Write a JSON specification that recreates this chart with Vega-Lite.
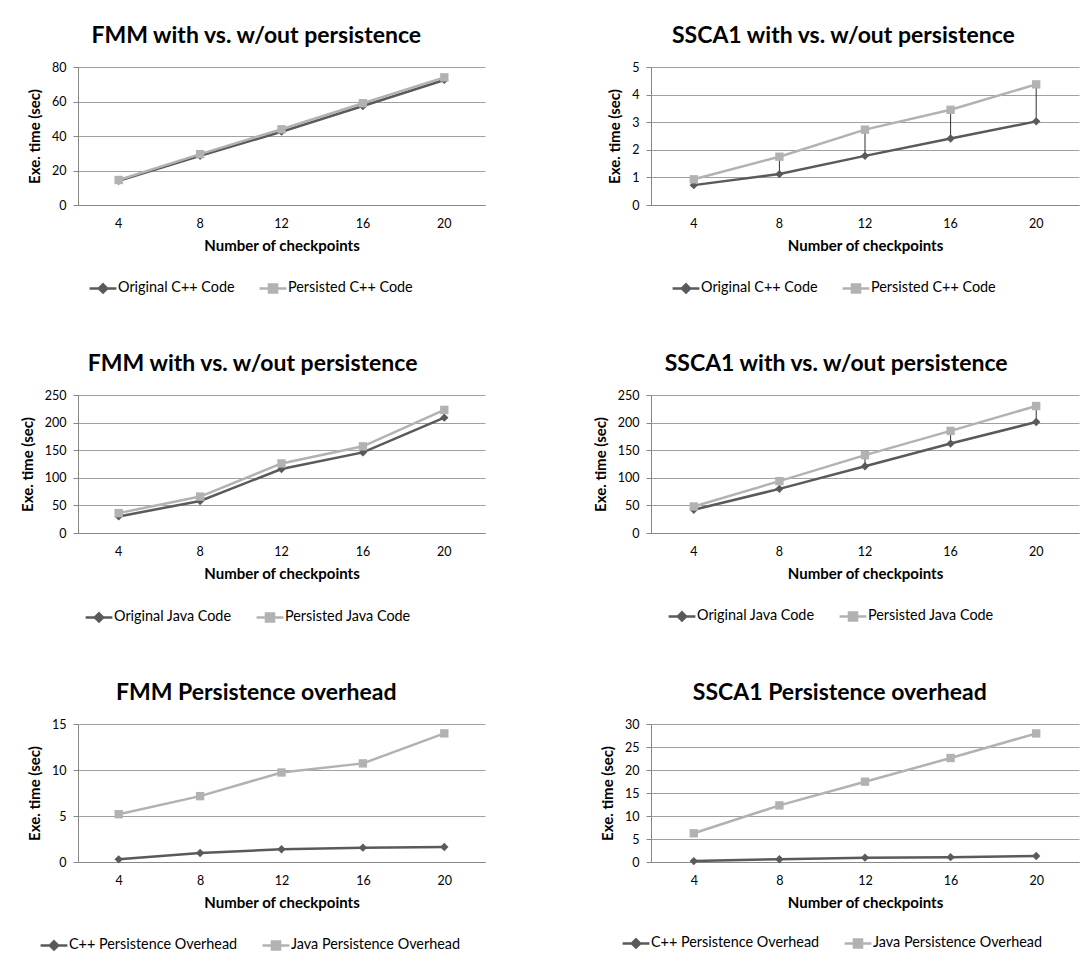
{
  "$schema": "https://vega.github.io/schema/vega-lite/v6.json",
  "background": "white",
  "padding": {"left": 20, "top": 25, "right": 3, "bottom": 5},
  "data": {"values": [
    {"panel": "p1", "series": "Original C++ Code", "checkpoints": 4, "time": 14},
    {"panel": "p1", "series": "Original C++ Code", "checkpoints": 8, "time": 28.5},
    {"panel": "p1", "series": "Original C++ Code", "checkpoints": 12, "time": 42.5},
    {"panel": "p1", "series": "Original C++ Code", "checkpoints": 16, "time": 57.4},
    {"panel": "p1", "series": "Original C++ Code", "checkpoints": 20, "time": 72.5},
    {"panel": "p1", "series": "Persisted C++ Code", "checkpoints": 4, "time": 14.5},
    {"panel": "p1", "series": "Persisted C++ Code", "checkpoints": 8, "time": 29.5},
    {"panel": "p1", "series": "Persisted C++ Code", "checkpoints": 12, "time": 43.9},
    {"panel": "p1", "series": "Persisted C++ Code", "checkpoints": 16, "time": 59},
    {"panel": "p1", "series": "Persisted C++ Code", "checkpoints": 20, "time": 74},
    {"panel": "p2", "series": "Original C++ Code", "checkpoints": 4, "time": 0.72},
    {"panel": "p2", "series": "Original C++ Code", "checkpoints": 8, "time": 1.12},
    {"panel": "p2", "series": "Original C++ Code", "checkpoints": 12, "time": 1.78},
    {"panel": "p2", "series": "Original C++ Code", "checkpoints": 16, "time": 2.41},
    {"panel": "p2", "series": "Original C++ Code", "checkpoints": 20, "time": 3.03},
    {"panel": "p2", "series": "Persisted C++ Code", "checkpoints": 4, "time": 0.93},
    {"panel": "p2", "series": "Persisted C++ Code", "checkpoints": 8, "time": 1.75},
    {"panel": "p2", "series": "Persisted C++ Code", "checkpoints": 12, "time": 2.73},
    {"panel": "p2", "series": "Persisted C++ Code", "checkpoints": 16, "time": 3.45},
    {"panel": "p2", "series": "Persisted C++ Code", "checkpoints": 20, "time": 4.37},
    {"panel": "p3", "series": "Original Java Code", "checkpoints": 4, "time": 30},
    {"panel": "p3", "series": "Original Java Code", "checkpoints": 8, "time": 58},
    {"panel": "p3", "series": "Original Java Code", "checkpoints": 12, "time": 116},
    {"panel": "p3", "series": "Original Java Code", "checkpoints": 16, "time": 146},
    {"panel": "p3", "series": "Original Java Code", "checkpoints": 20, "time": 209},
    {"panel": "p3", "series": "Persisted Java Code", "checkpoints": 4, "time": 36},
    {"panel": "p3", "series": "Persisted Java Code", "checkpoints": 8, "time": 66},
    {"panel": "p3", "series": "Persisted Java Code", "checkpoints": 12, "time": 126},
    {"panel": "p3", "series": "Persisted Java Code", "checkpoints": 16, "time": 157},
    {"panel": "p3", "series": "Persisted Java Code", "checkpoints": 20, "time": 223},
    {"panel": "p4", "series": "Original Java Code", "checkpoints": 4, "time": 42},
    {"panel": "p4", "series": "Original Java Code", "checkpoints": 8, "time": 80},
    {"panel": "p4", "series": "Original Java Code", "checkpoints": 12, "time": 121},
    {"panel": "p4", "series": "Original Java Code", "checkpoints": 16, "time": 162},
    {"panel": "p4", "series": "Original Java Code", "checkpoints": 20, "time": 201},
    {"panel": "p4", "series": "Persisted Java Code", "checkpoints": 4, "time": 48},
    {"panel": "p4", "series": "Persisted Java Code", "checkpoints": 8, "time": 94},
    {"panel": "p4", "series": "Persisted Java Code", "checkpoints": 12, "time": 141},
    {"panel": "p4", "series": "Persisted Java Code", "checkpoints": 16, "time": 185},
    {"panel": "p4", "series": "Persisted Java Code", "checkpoints": 20, "time": 230},
    {"panel": "p5", "series": "C++ Persistence Overhead", "checkpoints": 4, "time": 0.29},
    {"panel": "p5", "series": "C++ Persistence Overhead", "checkpoints": 8, "time": 0.98},
    {"panel": "p5", "series": "C++ Persistence Overhead", "checkpoints": 12, "time": 1.38},
    {"panel": "p5", "series": "C++ Persistence Overhead", "checkpoints": 16, "time": 1.56},
    {"panel": "p5", "series": "C++ Persistence Overhead", "checkpoints": 20, "time": 1.63},
    {"panel": "p5", "series": "Java Persistence Overhead", "checkpoints": 4, "time": 5.19},
    {"panel": "p5", "series": "Java Persistence Overhead", "checkpoints": 8, "time": 7.16},
    {"panel": "p5", "series": "Java Persistence Overhead", "checkpoints": 12, "time": 9.73},
    {"panel": "p5", "series": "Java Persistence Overhead", "checkpoints": 16, "time": 10.72},
    {"panel": "p5", "series": "Java Persistence Overhead", "checkpoints": 20, "time": 13.98},
    {"panel": "p6", "series": "C++ Persistence Overhead", "checkpoints": 4, "time": 0.2},
    {"panel": "p6", "series": "C++ Persistence Overhead", "checkpoints": 8, "time": 0.6},
    {"panel": "p6", "series": "C++ Persistence Overhead", "checkpoints": 12, "time": 0.95},
    {"panel": "p6", "series": "C++ Persistence Overhead", "checkpoints": 16, "time": 1.05},
    {"panel": "p6", "series": "C++ Persistence Overhead", "checkpoints": 20, "time": 1.3},
    {"panel": "p6", "series": "Java Persistence Overhead", "checkpoints": 4, "time": 6.24},
    {"panel": "p6", "series": "Java Persistence Overhead", "checkpoints": 8, "time": 12.3},
    {"panel": "p6", "series": "Java Persistence Overhead", "checkpoints": 12, "time": 17.46},
    {"panel": "p6", "series": "Java Persistence Overhead", "checkpoints": 16, "time": 22.6},
    {"panel": "p6", "series": "Java Persistence Overhead", "checkpoints": 20, "time": 27.95}
  ]},
  "columns": 2,
  "align": "each",
  "spacing": {"row": 55, "column": 108},
  "resolve": {"scale": {"color": "independent", "shape": "independent", "x": "independent", "y": "independent"}, "legend": {"color": "independent"}, "axis": {"x": "independent", "y": "independent"}},
  "concat": [
    {
      "width": 407, "height": 138,
      "title": {"text": "FMM with vs. w/out persistence"},
      "transform": [{"filter": "datum.panel == 'p1'"}],
      "encoding": {
        "x": {"field": "checkpoints", "type": "ordinal", "title": "Number of checkpoints"},
        "y": {"field": "time", "type": "quantitative", "title": "Exe. time (sec)", "scale": {"domain": [0, 80]}, "axis": {"values": [0, 20, 40, 60, 80]}},
        "color": {"field": "series", "type": "nominal", "scale": {"range": ["#5a5a5a", "#b2b2b2"]}, "legend": {"orient": "none", "legendX": 17, "legendY": 213, "encode": {"symbols": {"update": {"shape": {"signal": "indexof(['Original C++ Code','Original Java Code','C++ Persistence Overhead'], datum.value) >= 0 ? 'M-2,0H2M0,-0.62L0.62,0L0,0.62L-0.62,0Z' : 'M-2,0H2M-0.6,-0.6H0.6V0.6H-0.6Z'"}, "fill": {"signal": "indexof(['Original C++ Code','Original Java Code','C++ Persistence Overhead'], datum.value) >= 0 ? '#5a5a5a' : '#b2b2b2'"}, "stroke": {"signal": "indexof(['Original C++ Code','Original Java Code','C++ Persistence Overhead'], datum.value) >= 0 ? '#5a5a5a' : '#b2b2b2'"}, "strokeWidth": {"value": 2.5}}}}}}
      },
      "layer": [
        {"mark": {"type": "line", "strokeWidth": 2.5}},
        {"mark": {"type": "rule", "strokeWidth": 1}, "encoding": {"color": {"value": "#303030"}, "y": {"aggregate": "min", "field": "time", "type": "quantitative"}, "y2": {"aggregate": "max", "field": "time"}}},
        {"mark": {"type": "point", "filled": true, "opacity": 1}, "encoding": {"shape": {"field": "series", "type": "nominal", "scale": {"range": ["diamond", "square"]}, "legend": null}, "size": {"value": 70}}}
      ]
    },
    {
      "width": 428, "height": 138,
      "title": {"text": "SSCA1 with vs. w/out persistence"},
      "transform": [{"filter": "datum.panel == 'p2'"}],
      "encoding": {
        "x": {"field": "checkpoints", "type": "ordinal", "title": "Number of checkpoints"},
        "y": {"field": "time", "type": "quantitative", "title": "Exe. time (sec)", "scale": {"domain": [0, 5]}, "axis": {"values": [0, 1, 2, 3, 4, 5]}},
        "color": {"field": "series", "type": "nominal", "scale": {"range": ["#5a5a5a", "#b2b2b2"]}, "legend": {"orient": "none", "legendX": 27, "legendY": 213, "encode": {"symbols": {"update": {"shape": {"signal": "indexof(['Original C++ Code','Original Java Code','C++ Persistence Overhead'], datum.value) >= 0 ? 'M-2,0H2M0,-0.62L0.62,0L0,0.62L-0.62,0Z' : 'M-2,0H2M-0.6,-0.6H0.6V0.6H-0.6Z'"}, "fill": {"signal": "indexof(['Original C++ Code','Original Java Code','C++ Persistence Overhead'], datum.value) >= 0 ? '#5a5a5a' : '#b2b2b2'"}, "stroke": {"signal": "indexof(['Original C++ Code','Original Java Code','C++ Persistence Overhead'], datum.value) >= 0 ? '#5a5a5a' : '#b2b2b2'"}, "strokeWidth": {"value": 2.5}}}}}}
      },
      "layer": [
        {"mark": {"type": "line", "strokeWidth": 2.5}},
        {"mark": {"type": "rule", "strokeWidth": 1}, "encoding": {"color": {"value": "#303030"}, "y": {"aggregate": "min", "field": "time", "type": "quantitative"}, "y2": {"aggregate": "max", "field": "time"}}},
        {"mark": {"type": "point", "filled": true, "opacity": 1}, "encoding": {"shape": {"field": "series", "type": "nominal", "scale": {"range": ["diamond", "square"]}, "legend": null}, "size": {"value": 70}}}
      ]
    },
    {
      "width": 407, "height": 138,
      "title": {"text": "FMM with vs. w/out persistence"},
      "transform": [{"filter": "datum.panel == 'p3'"}],
      "encoding": {
        "x": {"field": "checkpoints", "type": "ordinal", "title": "Number of checkpoints"},
        "y": {"field": "time", "type": "quantitative", "title": "Exe. time (sec)", "scale": {"domain": [0, 250]}, "axis": {"values": [0, 50, 100, 150, 200, 250]}},
        "color": {"field": "series", "type": "nominal", "scale": {"range": ["#5a5a5a", "#b2b2b2"]}, "legend": {"orient": "none", "legendX": 13, "legendY": 214, "encode": {"symbols": {"update": {"shape": {"signal": "indexof(['Original C++ Code','Original Java Code','C++ Persistence Overhead'], datum.value) >= 0 ? 'M-2,0H2M0,-0.62L0.62,0L0,0.62L-0.62,0Z' : 'M-2,0H2M-0.6,-0.6H0.6V0.6H-0.6Z'"}, "fill": {"signal": "indexof(['Original C++ Code','Original Java Code','C++ Persistence Overhead'], datum.value) >= 0 ? '#5a5a5a' : '#b2b2b2'"}, "stroke": {"signal": "indexof(['Original C++ Code','Original Java Code','C++ Persistence Overhead'], datum.value) >= 0 ? '#5a5a5a' : '#b2b2b2'"}, "strokeWidth": {"value": 2.5}}}}}}
      },
      "layer": [
        {"mark": {"type": "line", "strokeWidth": 2.5}},
        {"mark": {"type": "rule", "strokeWidth": 1}, "encoding": {"color": {"value": "#303030"}, "y": {"aggregate": "min", "field": "time", "type": "quantitative"}, "y2": {"aggregate": "max", "field": "time"}}},
        {"mark": {"type": "point", "filled": true, "opacity": 1}, "encoding": {"shape": {"field": "series", "type": "nominal", "scale": {"range": ["diamond", "square"]}, "legend": null}, "size": {"value": 70}}}
      ]
    },
    {
      "width": 428, "height": 138,
      "title": {"text": "SSCA1 with vs. w/out persistence"},
      "transform": [{"filter": "datum.panel == 'p4'"}],
      "encoding": {
        "x": {"field": "checkpoints", "type": "ordinal", "title": "Number of checkpoints"},
        "y": {"field": "time", "type": "quantitative", "title": "Exe. time (sec)", "scale": {"domain": [0, 250]}, "axis": {"values": [0, 50, 100, 150, 200, 250]}},
        "color": {"field": "series", "type": "nominal", "scale": {"range": ["#5a5a5a", "#b2b2b2"]}, "legend": {"orient": "none", "legendX": 23, "legendY": 213, "encode": {"symbols": {"update": {"shape": {"signal": "indexof(['Original C++ Code','Original Java Code','C++ Persistence Overhead'], datum.value) >= 0 ? 'M-2,0H2M0,-0.62L0.62,0L0,0.62L-0.62,0Z' : 'M-2,0H2M-0.6,-0.6H0.6V0.6H-0.6Z'"}, "fill": {"signal": "indexof(['Original C++ Code','Original Java Code','C++ Persistence Overhead'], datum.value) >= 0 ? '#5a5a5a' : '#b2b2b2'"}, "stroke": {"signal": "indexof(['Original C++ Code','Original Java Code','C++ Persistence Overhead'], datum.value) >= 0 ? '#5a5a5a' : '#b2b2b2'"}, "strokeWidth": {"value": 2.5}}}}}}
      },
      "layer": [
        {"mark": {"type": "line", "strokeWidth": 2.5}},
        {"mark": {"type": "rule", "strokeWidth": 1}, "encoding": {"color": {"value": "#303030"}, "y": {"aggregate": "min", "field": "time", "type": "quantitative"}, "y2": {"aggregate": "max", "field": "time"}}},
        {"mark": {"type": "point", "filled": true, "opacity": 1}, "encoding": {"shape": {"field": "series", "type": "nominal", "scale": {"range": ["diamond", "square"]}, "legend": null}, "size": {"value": 70}}}
      ]
    },
    {
      "width": 407, "height": 138,
      "title": {"text": "FMM Persistence overhead"},
      "transform": [{"filter": "datum.panel == 'p5'"}],
      "encoding": {
        "x": {"field": "checkpoints", "type": "ordinal", "title": "Number of checkpoints"},
        "y": {"field": "time", "type": "quantitative", "title": "Exe. time (sec)", "scale": {"domain": [0, 15]}, "axis": {"values": [0, 5, 10, 15]}},
        "color": {"field": "series", "type": "nominal", "scale": {"range": ["#5a5a5a", "#b2b2b2"]}, "legend": {"orient": "none", "legendX": -32, "legendY": 213, "encode": {"symbols": {"update": {"shape": {"signal": "indexof(['Original C++ Code','Original Java Code','C++ Persistence Overhead'], datum.value) >= 0 ? 'M-2,0H2M0,-0.62L0.62,0L0,0.62L-0.62,0Z' : 'M-2,0H2M-0.6,-0.6H0.6V0.6H-0.6Z'"}, "fill": {"signal": "indexof(['Original C++ Code','Original Java Code','C++ Persistence Overhead'], datum.value) >= 0 ? '#5a5a5a' : '#b2b2b2'"}, "stroke": {"signal": "indexof(['Original C++ Code','Original Java Code','C++ Persistence Overhead'], datum.value) >= 0 ? '#5a5a5a' : '#b2b2b2'"}, "strokeWidth": {"value": 2.5}}}}}}
      },
      "layer": [
        {"mark": {"type": "line", "strokeWidth": 2.5}},
        {"mark": {"type": "point", "filled": true, "opacity": 1}, "encoding": {"shape": {"field": "series", "type": "nominal", "scale": {"range": ["diamond", "square"]}, "legend": null}, "size": {"value": 70}}}
      ]
    },
    {
      "width": 428, "height": 138,
      "title": {"text": "SSCA1 Persistence overhead"},
      "transform": [{"filter": "datum.panel == 'p6'"}],
      "encoding": {
        "x": {"field": "checkpoints", "type": "ordinal", "title": "Number of checkpoints"},
        "y": {"field": "time", "type": "quantitative", "title": "Exe. time (sec)", "scale": {"domain": [0, 30]}, "axis": {"values": [0, 5, 10, 15, 20, 25, 30]}},
        "color": {"field": "series", "type": "nominal", "scale": {"range": ["#5a5a5a", "#b2b2b2"]}, "legend": {"orient": "none", "legendX": -23, "legendY": 211, "encode": {"symbols": {"update": {"shape": {"signal": "indexof(['Original C++ Code','Original Java Code','C++ Persistence Overhead'], datum.value) >= 0 ? 'M-2,0H2M0,-0.62L0.62,0L0,0.62L-0.62,0Z' : 'M-2,0H2M-0.6,-0.6H0.6V0.6H-0.6Z'"}, "fill": {"signal": "indexof(['Original C++ Code','Original Java Code','C++ Persistence Overhead'], datum.value) >= 0 ? '#5a5a5a' : '#b2b2b2'"}, "stroke": {"signal": "indexof(['Original C++ Code','Original Java Code','C++ Persistence Overhead'], datum.value) >= 0 ? '#5a5a5a' : '#b2b2b2'"}, "strokeWidth": {"value": 2.5}}}}}}
      },
      "layer": [
        {"mark": {"type": "line", "strokeWidth": 2.5}},
        {"mark": {"type": "point", "filled": true, "opacity": 1}, "encoding": {"shape": {"field": "series", "type": "nominal", "scale": {"range": ["diamond", "square"]}, "legend": null}, "size": {"value": 70}}}
      ]
    }
  ],
  "config": {
    "font": "Lato",
    "view": {"stroke": null},
    "title": {"fontSize": 23, "fontWeight": "bold", "color": "#000000", "anchor": "middle", "frame": "bounds", "offset": 13},
    "axis": {"labelFontSize": 12.5, "labelColor": "#000000", "titleFontSize": 15, "titleFontWeight": "bold", "titleColor": "#000000", "domainColor": "#868686", "tickColor": "#868686", "gridColor": "#a0a0a0"},
    "axisX": {"labelAngle": 0, "ticks": false, "grid": false, "labelPadding": 12, "titlePadding": 9},
    "axisY": {"grid": true, "tickSize": 5, "labelPadding": 7, "titlePadding": 9},
    "scale": {"pointPadding": 0.5},
    "legend": {"title": null, "direction": "horizontal", "labelFontSize": 14.4, "labelColor": "#000000", "labelLimit": 400, "symbolSize": 180, "labelOffset": 7, "columnPadding": 19}
  }
}
